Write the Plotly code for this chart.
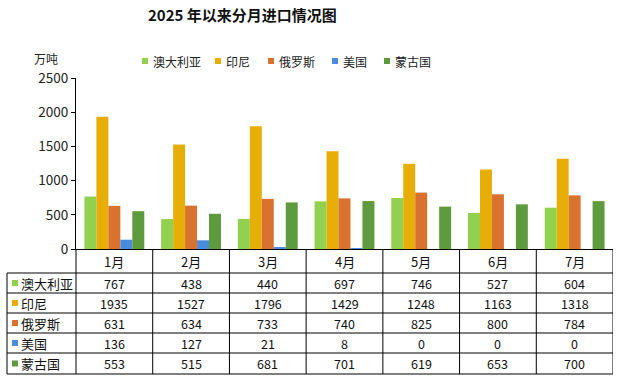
import plotly.graph_objects as go

months = ["1月", "2月", "3月", "4月", "5月", "6月", "7月"]
series_names = ["澳大利亚", "印尼", "俄罗斯", "美国", "蒙古国"]
australia = [767, 438, 440, 697, 746, 527, 604]
indonesia = [1935, 1527, 1796, 1429, 1248, 1163, 1318]
russia = [631, 634, 733, 740, 825, 800, 784]
usa = [136, 127, 21, 8, 0, 0, 0]
mongolia = [553, 515, 681, 701, 619, 653, 700]
y_ticks = [0, 500, 1000, 1500, 2000, 2500]

colors = ["#92D050", "#E6AE06", "#D9722E", "#4A8CDB", "#5E9B3E"]
all_values = [australia, indonesia, russia, usa, mongolia]

W, H = 619, 382
FONT = "Noto Sans CJK SC"


def px(x):
    return x / W


def py(y):
    return 1 - y / H


fig = go.Figure()
for name, vals, col in zip(series_names, all_values, colors):
    fig.add_bar(x=months, y=vals, name=name, marker_color=col,
                marker_line_width=0, showlegend=False)

shapes = []
annotations = []

# extend y-axis line down through table
shapes.append(dict(type="line", xref="paper", yref="paper",
                   x0=px(76), x1=px(76), y0=py(249), y1=py(374),
                   line=dict(color="black", width=1)))
# left border of label column
shapes.append(dict(type="line", xref="paper", yref="paper",
                   x0=px(7), x1=px(7), y0=py(273), y1=py(374),
                   line=dict(color="black", width=1)))
# horizontal table lines
for yy in [273, 293, 313, 333, 353, 374]:
    shapes.append(dict(type="line", xref="paper", yref="paper",
                       x0=px(7), x1=px(613), y0=py(yy), y1=py(yy),
                       line=dict(color="black", width=1)))
# column separators (category boundaries via x scale)
for i in range(len(months)):
    shapes.append(dict(type="line", xref="x", yref="paper",
                       x0=i + 0.5, x1=i + 0.5, y0=py(250), y1=py(374),
                       line=dict(color="black", width=1)))

# header month labels
for m in months:
    annotations.append(dict(x=m, y=py(261.5), xref="x", yref="paper",
                            text=m, showarrow=False,
                            font=dict(family=FONT, size=13, color="#111"),
                            xanchor="center", yanchor="middle"))

row_centers = [283, 303, 323, 343, 363.5]
for name, vals, col, yc in zip(series_names, all_values, colors, row_centers):
    shapes.append(dict(type="rect", xref="paper", yref="paper",
                       x0=px(12), x1=px(18), y0=py(yc + 3), y1=py(yc - 3),
                       fillcolor=col, line=dict(width=0)))
    annotations.append(dict(x=px(19), y=py(yc), xref="paper", yref="paper",
                            text=name, showarrow=False,
                            font=dict(family=FONT, size=13, color="#111"),
                            xanchor="left", yanchor="middle"))
    for m, v in zip(months, vals):
        annotations.append(dict(x=m, y=py(yc), xref="x", yref="paper",
                                text=str(v), showarrow=False,
                                font=dict(family=FONT, size=12.5, color="#111"),
                                xanchor="center", yanchor="middle"))

# top legend
legend_marker_x = [145, 218, 271, 335, 387]
for name, col, mx in zip(series_names, colors, legend_marker_x):
    shapes.append(dict(type="rect", xref="paper", yref="paper",
                       x0=px(mx - 3), x1=px(mx + 3), y0=py(64), y1=py(58),
                       fillcolor=col, line=dict(width=0)))
    annotations.append(dict(x=px(mx + 6), y=py(61), xref="paper", yref="paper",
                            text=name, showarrow=False,
                            font=dict(family=FONT, size=12, color="#222"),
                            xanchor="left", yanchor="middle"))

# unit label
annotations.append(dict(x=px(46), y=py(58), xref="paper", yref="paper",
                        text="万吨", showarrow=False,
                        font=dict(family=FONT, size=12, color="#222"),
                        xanchor="center", yanchor="middle"))

# title
annotations.append(dict(x=px(242.5), y=py(15), xref="paper", yref="paper",
                        text="<b>2025 年以来分月进口情况图</b>", showarrow=False,
                        font=dict(family=FONT, size=15, color="#111"),
                        xanchor="center", yanchor="middle"))

fig.update_layout(
    template="none",
    width=W, height=H,
    margin=dict(l=0, r=0, t=0, b=0, pad=0, autoexpand=False),
    paper_bgcolor="white", plot_bgcolor="white",
    barmode="group", bargap=0.22, bargroupgap=0,
    showlegend=False,
    font=dict(family=FONT, color="#222"),
    shapes=shapes, annotations=annotations,
    xaxis=dict(domain=[px(76), px(613)], range=[-0.5, 6.5], automargin=False,
               showticklabels=False, ticks="", showgrid=False,
               showline=True, linecolor="black", linewidth=1, zeroline=False),
    yaxis=dict(domain=[py(249), py(78)], range=[0, 2500], automargin=False,
               tickvals=y_ticks, ticks="outside", ticklen=4,
               tickcolor="black", showgrid=False, zeroline=False,
               showline=True, linecolor="black", linewidth=1,
               tickfont=dict(family=FONT, size=13.5, color="#222")),
)

fig.write_html(
    "out.html",
    config={"displayModeBar": False},
    post_script="document.body.style.margin='0';document.body.style.overflow='hidden';",
)
